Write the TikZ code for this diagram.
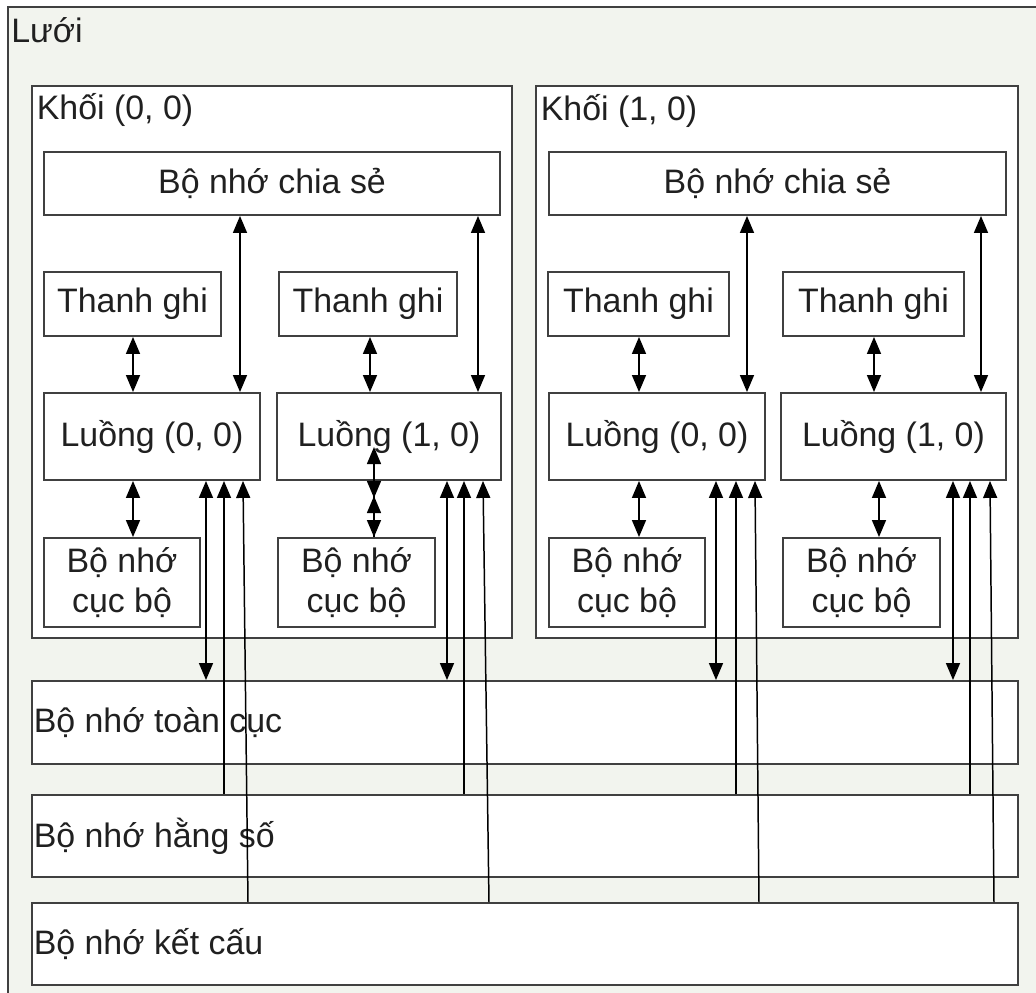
\documentclass[tikz,border=0pt]{standalone}
\usepackage{fontspec}
\setmainfont{Liberation Sans}
\usetikzlibrary{arrows.meta}
\definecolor{gridbg}{HTML}{F2F4EE}
\definecolor{boxline}{HTML}{404040}
\definecolor{inktext}{HTML}{202020}

\begin{document}
\begin{tikzpicture}[x=0.02cm,y=-0.02cm]
\tikzset{
  region/.style={draw=boxline,line width=1.1pt,inner sep=0pt},
  membox/.style={draw=boxline,line width=1.1pt,fill=white,inner sep=0pt,align=center,text=inktext,font=\fontsize{19.3}{23}\selectfont},
  sidelabel/.style={label={[anchor=west,inner sep=1.3pt,text=inktext,font=\fontsize{19.3}{23}\selectfont]west:#1}},
  titletext/.style={anchor=base west,inner sep=0pt,text=inktext,font=\fontsize{19.3}{23}\selectfont},
  biarrow/.style={{Triangle[length=3.4mm,width=2.8mm]}-{Triangle[length=3.4mm,width=2.8mm]},line width=0.85pt},
  toarrow/.style={-{Triangle[length=3.4mm,width=2.8mm]},line width=0.85pt}
}
\path[use as bounding box,clip] (0,0) rectangle (1036,993);

% grid and blocks
\node[region,fill=gridbg,minimum width=20.64cm,minimum height=19.86cm] (grid) at (524,503.5) {};
\node[titletext] (t_grid) at (11,43) {Lưới};
\node[region,fill=white,minimum width=9.6cm,minimum height=11.04cm] (blk0) at (272,362) {};
\node[region,fill=white,minimum width=9.64cm,minimum height=11.04cm] (blk1) at (777,362) {};
\node[titletext] (t_blk0) at (36.5,120) {Khối (0, 0)};
\node[titletext] (t_blk1) at (540.5,121) {Khối (1, 0)};

% shared memory
\node[membox,minimum width=9.12cm,minimum height=1.26cm] (sm0) at (272,183.5) {Bộ nhớ chia sẻ};
\node[membox,minimum width=9.14cm,minimum height=1.26cm] (sm1) at (777.5,183.5) {Bộ nhớ chia sẻ};

% registers
\node[membox,minimum width=3.54cm,minimum height=1.28cm] (th00) at (132.5,304) {Thanh ghi};
\node[membox,minimum width=3.56cm,minimum height=1.28cm] (th01) at (368,304) {Thanh ghi};
\node[membox,minimum width=3.62cm,minimum height=1.28cm] (th10) at (638.5,304) {Thanh ghi};
\node[membox,minimum width=3.62cm,minimum height=1.28cm] (th11) at (873.5,304) {Thanh ghi};

% threads
\node[membox,minimum width=4.32cm,minimum height=1.74cm] (ln00) at (152,436.5) {Luồng (0, 0)};
\node[membox,minimum width=4.48cm,minimum height=1.74cm] (ln01) at (389,436.5) {Luồng (1, 0)};
\node[membox,minimum width=4.32cm,minimum height=1.74cm] (ln10) at (657,436.5) {Luồng (0, 0)};
\node[membox,minimum width=4.5cm,minimum height=1.74cm] (ln11) at (893.5,436.5) {Luồng (1, 0)};

% local memory
\node[membox,minimum width=3.12cm,minimum height=1.78cm] (lm00) at (122,582.5) {Bộ nhớ\\cục bộ};
\node[membox,minimum width=3.14cm,minimum height=1.78cm] (lm01) at (356.5,582.5) {Bộ nhớ\\cục bộ};
\node[membox,minimum width=3.12cm,minimum height=1.78cm] (lm10) at (627,582.5) {Bộ nhớ\\cục bộ};
\node[membox,minimum width=3.14cm,minimum height=1.78cm] (lm11) at (861.5,582.5) {Bộ nhớ\\cục bộ};

% device memories
\node[membox,minimum width=19.72cm,minimum height=1.66cm,sidelabel={Bộ nhớ toàn cục}] (gm) at (525,722.5) {};
\node[membox,minimum width=19.72cm,minimum height=1.64cm,sidelabel={Bộ nhớ hằng số}] (cm) at (525,836) {};
\node[membox,minimum width=19.72cm,minimum height=1.64cm,sidelabel={Bộ nhớ kết cấu}] (tx) at (525,944) {};

% block (0, 0)
\draw[biarrow] (sm0.south -| 240,0) -- (ln00.north -| 240,0);
\draw[biarrow] (sm0.south -| 478,0) -- (ln01.north -| 478,0);
\draw[biarrow] (th00.south -| 133,0) -- (ln00.north -| 133,0);
\draw[biarrow] (th01.south -| 370,0) -- (ln01.north -| 370,0);
\draw[biarrow] (ln00.south -| 133,0) -- (lm00.north -| 133,0);
\draw[biarrow] (lm01.north -| 374,0) -- ++(0,-90);
\draw[toarrow] (ln01.south -| 374,0) -- ++(0,17);
\draw[toarrow] (lm01.north -| 374,0) -- ++(0,-41);
\draw[biarrow] (ln00.south -| 206,0) -- (gm.north -| 206,0);
\draw[biarrow] (ln01.south -| 447,0) -- (gm.north -| 447,0);
\draw[toarrow] (cm.north -| 224,0) -- (ln00.south -| 224,0);
\draw[toarrow] (cm.north -| 464,0) -- (ln01.south -| 464,0);
\draw[toarrow] (tx.north -| 248,0) -- (ln00.south -| 243,0);
\draw[toarrow] (tx.north -| 489,0) -- (ln01.south -| 483,0);

% block (1, 0)
\draw[biarrow] (sm1.south -| 747,0) -- (ln10.north -| 747,0);
\draw[biarrow] (sm1.south -| 981,0) -- (ln11.north -| 981,0);
\draw[biarrow] (th10.south -| 639,0) -- (ln10.north -| 639,0);
\draw[biarrow] (th11.south -| 874,0) -- (ln11.north -| 874,0);
\draw[biarrow] (ln10.south -| 639,0) -- (lm10.north -| 639,0);
\draw[biarrow] (ln11.south -| 879,0) -- (lm11.north -| 879,0);
\draw[biarrow] (ln10.south -| 716,0) -- (gm.north -| 716,0);
\draw[biarrow] (ln11.south -| 953,0) -- (gm.north -| 953,0);
\draw[toarrow] (cm.north -| 736,0) -- (ln10.south -| 736,0);
\draw[toarrow] (cm.north -| 970,0) -- (ln11.south -| 970,0);
\draw[toarrow] (tx.north -| 759,0) -- (ln10.south -| 755,0);
\draw[toarrow] (tx.north -| 994,0) -- (ln11.south -| 990,0);
\end{tikzpicture}
\end{document}
